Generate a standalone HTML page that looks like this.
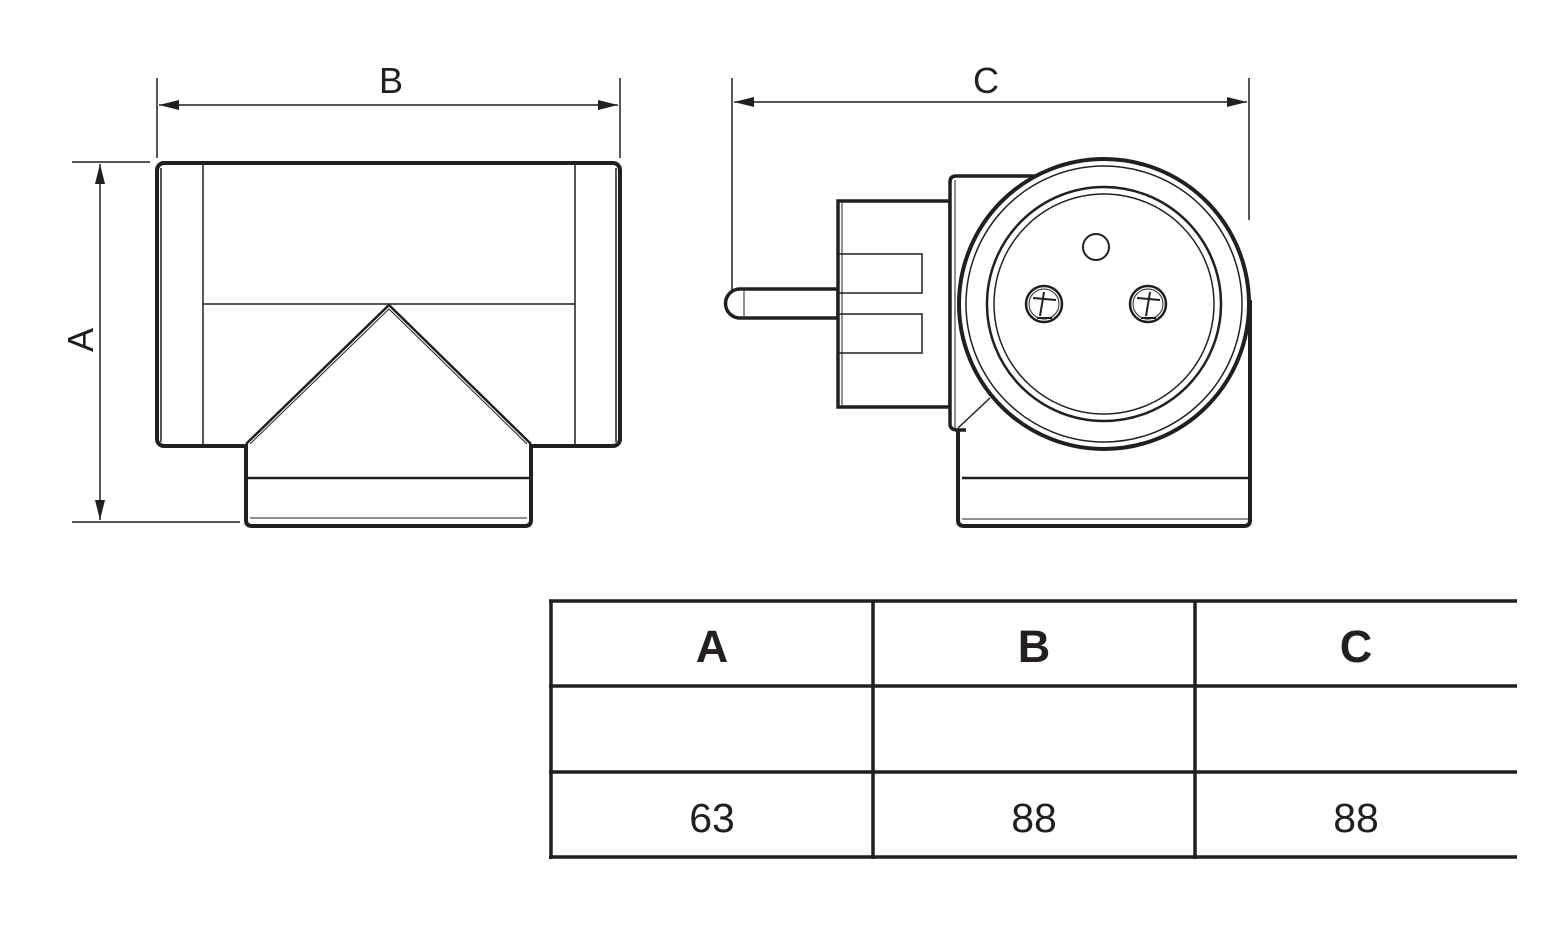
<!DOCTYPE html>
<html><head><meta charset="utf-8"><style>html,body{margin:0;padding:0;background:#fff}svg{display:block}</style></head>
<body>
<svg width="1562" height="928" viewBox="0 0 1562 928" xmlns="http://www.w3.org/2000/svg" font-family="Liberation Sans, sans-serif">
<defs>
<marker id="ar" viewBox="0 0 20 10" refX="20" refY="5" markerWidth="20" markerHeight="10" markerUnits="userSpaceOnUse" orient="auto-start-reverse"><path d="M0,0 L20,5 L0,10 z" fill="#231f20"/></marker>
</defs>
<g stroke="#231f20" fill="none">
<!-- dimension B -->
<line x1="157" y1="78" x2="157" y2="158" stroke-width="1.5"/>
<line x1="620" y1="78" x2="620" y2="158" stroke-width="1.5"/>
<line x1="159" y1="105" x2="618" y2="105" stroke-width="1.5" marker-start="url(#ar)" marker-end="url(#ar)"/>
<!-- dimension C -->
<line x1="732" y1="78" x2="732" y2="290" stroke-width="1.5"/>
<line x1="1249" y1="78" x2="1249" y2="220" stroke-width="1.5"/>
<line x1="734" y1="102" x2="1247" y2="102" stroke-width="1.5" marker-start="url(#ar)" marker-end="url(#ar)"/>
<!-- dimension A -->
<line x1="72" y1="162" x2="150" y2="162" stroke-width="1.5"/>
<line x1="72" y1="522" x2="240" y2="522" stroke-width="1.5"/>
<line x1="100" y1="164" x2="100" y2="520" stroke-width="1.5" marker-start="url(#ar)" marker-end="url(#ar)"/>

<!-- left view -->
<rect x="157" y="163" width="463" height="283" rx="7" stroke-width="4"/>
<line x1="161" y1="168" x2="161" y2="442" stroke-width="1.5"/>
<line x1="616" y1="168" x2="616" y2="442" stroke-width="1.5"/>
<line x1="203" y1="165" x2="203" y2="444" stroke-width="1.5"/>
<line x1="575" y1="165" x2="575" y2="444" stroke-width="1.5"/>
<line x1="203" y1="304" x2="575" y2="304" stroke-width="1.5"/>
<path d="M246,444 L389,305 L531,444" stroke-width="2.5" fill="#fff"/>
<path d="M250,444 L389,309 L527,444" stroke-width="1"/>
<path d="M246,444 L246,520 Q246,526 252,526 L525,526 Q531,526 531,520 L531,444" stroke-width="4" fill="#fff"/>
<line x1="246" y1="478" x2="531" y2="478" stroke-width="2.5"/>
<line x1="250" y1="518" x2="527" y2="518" stroke-width="1"/>

<!-- right view -->
<path d="M740,289 L838,289 L838,318 L740,318 A14.5,14.5 0 0 1 740,289 z" stroke-width="3.5" fill="#fff"/>
<line x1="744" y1="291" x2="744" y2="316" stroke-width="1"/>
<rect x="838" y="201" width="112" height="206" stroke-width="3.5" fill="#fff"/>
<line x1="842" y1="203" x2="842" y2="405" stroke-width="1"/>
<rect x="838" y="254" width="84" height="39" stroke-width="1.5"/>
<rect x="838" y="314" width="84" height="39" stroke-width="1.5"/>
<path d="M958,430 L958,520 Q958,526 964,526 L1244,526 Q1250,526 1250,520 L1250,300" stroke-width="4" fill="#fff"/>
<line x1="962" y1="478" x2="1248" y2="478" stroke-width="2.5"/>
<line x1="962" y1="519" x2="1248" y2="519" stroke-width="1"/>
<path d="M1060,176 L956,176 Q950,176 950,182 L950,424 Q950,430 958,430 L966,430" stroke-width="3.5" fill="#fff"/>
<line x1="955" y1="180" x2="955" y2="428" stroke-width="1"/>
<circle cx="1104" cy="304" r="145" stroke-width="4" fill="#fff"/>
<circle cx="1104" cy="304" r="138" stroke-width="1.5"/>
<circle cx="1104" cy="304" r="117" stroke-width="2.5"/>
<circle cx="1104" cy="304" r="110" stroke-width="1.5"/>
<line x1="958" y1="428" x2="990" y2="398" stroke-width="1.5"/>
<circle cx="1096" cy="247" r="13" stroke-width="2"/>
<circle cx="1044" cy="304" r="18" stroke-width="2.5"/>
<circle cx="1044" cy="304" r="15" stroke-width="1"/>
<path d="M1033,298 L1056,300 M1037,318 L1052,318 M1044,292 L1040,316" stroke-width="2"/>
<circle cx="1148" cy="304" r="18" stroke-width="2.5"/>
<circle cx="1148" cy="304" r="15" stroke-width="1"/>
<path d="M1137,298 L1160,300 M1141,318 L1156,318 M1150,292 L1146,316" stroke-width="2"/>

<!-- table -->
<g stroke-width="3.5">
<line x1="549" y1="601" x2="1517" y2="601"/>
<line x1="549" y1="686" x2="1517" y2="686"/>
<line x1="549" y1="772" x2="1517" y2="772"/>
<line x1="549" y1="857" x2="1517" y2="857"/>
<line x1="551" y1="600" x2="551" y2="859"/>
<line x1="873" y1="600" x2="873" y2="859"/>
<line x1="1195" y1="600" x2="1195" y2="859"/>
</g>
</g>
<g fill="#231f20" text-anchor="middle">
<text x="391" y="93" font-size="36">B</text>
<text x="986" y="93" font-size="36">C</text>
<text transform="translate(93,340) rotate(-90)" font-size="36">A</text>
<text x="712" y="662" font-size="45" font-weight="bold">A</text>
<text x="1034" y="662" font-size="45" font-weight="bold">B</text>
<text x="1356" y="662" font-size="45" font-weight="bold">C</text>
<text x="712" y="832" font-size="41">63</text>
<text x="1034" y="832" font-size="41">88</text>
<text x="1356" y="832" font-size="41">88</text>
</g>
</svg>
</body></html>
